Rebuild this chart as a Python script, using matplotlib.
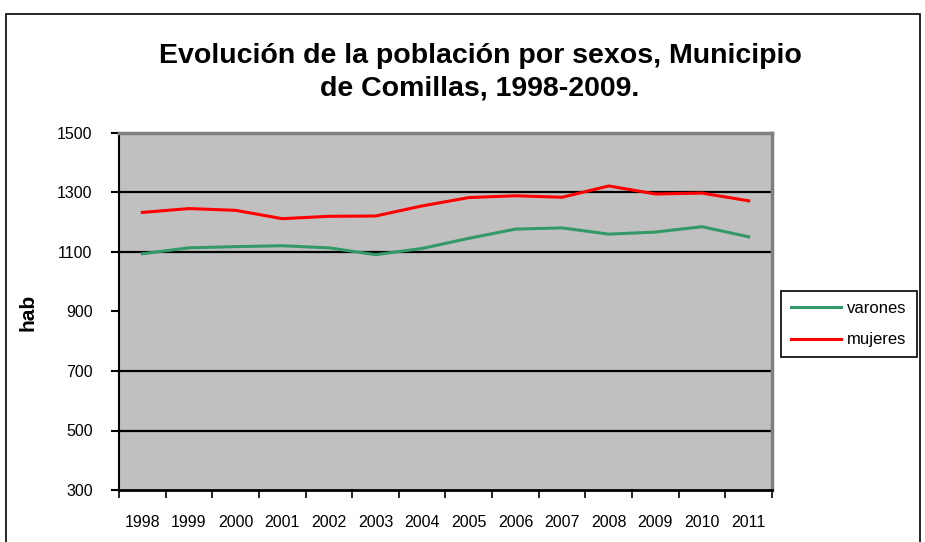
import matplotlib
matplotlib.use("Agg")
import matplotlib.pyplot as plt
from matplotlib.patches import Rectangle

years = ["1998", "1999", "2000", "2001", "2002", "2003", "2004",
         "2005", "2006", "2007", "2008", "2009", "2010", "2011"]
varones = [1094, 1114, 1118, 1121, 1114, 1091, 1112,
           1146, 1177, 1181, 1160, 1167, 1185, 1151]
mujeres = [1233, 1246, 1240, 1212, 1220, 1221, 1255,
           1283, 1289, 1284, 1322, 1295, 1298, 1272]
y_ticks = [300, 500, 700, 900, 1100, 1300, 1500]
grid_levels = [500, 700, 1100, 1300]

plt.rcParams["font.family"] = ["Liberation Sans", "DejaVu Sans"]

fig = plt.figure(figsize=(9.25, 5.42), dpi=100)
ax = fig.add_axes([119 / 925, 1 - 490 / 542, 653 / 925, 357 / 542])
ax.set_facecolor("#C0C0C0")

# outer chart border
fig.patches.append(Rectangle((6 / 925, -0.05), 914 / 925, 1 - 14 / 542 + 0.05,
                             transform=fig.transFigure, fill=False,
                             edgecolor="black", lw=1.2))

x = list(range(len(years)))
for g in grid_levels:
    ax.axhline(g, color="black", lw=1.6, zorder=1)
ax.plot(x, varones, color="#339966", lw=2.2, label="varones", zorder=3)
ax.plot(x, mujeres, color="#FF0000", lw=2.2, label="mujeres", zorder=3)

ax.set_xlim(-0.5, len(years) - 0.5)
ax.set_ylim(300, 1500)
ax.set_yticks(y_ticks)
ax.set_yticklabels([str(v) for v in y_ticks], fontsize=11.5)
ax.tick_params(axis="y", length=6, width=1.5, pad=13, color="black")

ax.set_xticks([i - 0.5 for i in range(len(years) + 1)])
ax.set_xticklabels([])
ax.set_xticks(x, minor=True)
ax.set_xticklabels(years, minor=True, fontsize=11.5)
ax.tick_params(axis="x", which="major", length=6, width=1.2, direction="out")
ax.tick_params(axis="x", which="minor", length=0, pad=18)

for s in ["top", "right"]:
    ax.spines[s].set_color("#808080")
    ax.spines[s].set_linewidth(2.5)
ax.spines["left"].set_linewidth(1.5)
ax.spines["bottom"].set_linewidth(2)

ax.set_ylabel("hab", fontsize=15, fontweight="bold")
ax.yaxis.set_label_coords((38 - 119) / 653, (490 - 312) / 357)

fig.text(480 / 925, 1 - 72 / 542,
         "Evolución de la población por sexos, Municipio\nde Comillas, 1998-2009.",
         ha="center", va="center", fontsize=20.5, fontweight="bold",
         linespacing=1.3)

leg = ax.legend(loc="center left", bbox_to_anchor=(781 / 925, 1 - 324 / 542),
                bbox_transform=fig.transFigure, borderaxespad=0,
                fancybox=False, framealpha=1,
                edgecolor="black", fontsize=12, handlelength=3.0,
                labelspacing=1.0, borderpad=0.6, handletextpad=0.36)
leg.get_frame().set_linewidth(1.2)

fig.savefig("out.png", dpi=100)
